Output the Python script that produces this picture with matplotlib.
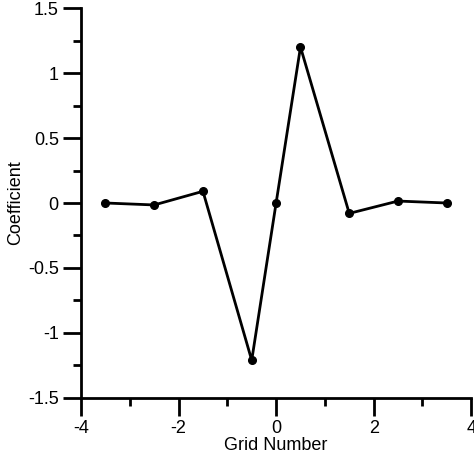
import matplotlib
matplotlib.use("Agg")
import matplotlib.pyplot as plt
from matplotlib.ticker import MultipleLocator, FormatStrFormatter

grid_number = [-3.5, -2.5, -1.5, -0.5, 0.0, 0.5, 1.5, 2.5, 3.5]
coefficient = [0.0, -0.015, 0.09, -1.21, 0.0, 1.2, -0.08, 0.015, 0.0]

plt.rcParams['font.family'] = ['Liberation Sans', 'DejaVu Sans']
plt.rcParams['axes.unicode_minus'] = False

fig = plt.figure(figsize=(4.74, 4.61), dpi=100)
ax = fig.add_axes([0.171, 0.1367, 0.823, 0.8459])

ax.plot(grid_number, coefficient, color='black', linewidth=2,
        marker='o', markersize=5.5, clip_on=False)

ax.set_xlim(-4, 4)
ax.set_ylim(-1.5, 1.5)
ax.xaxis.set_major_locator(MultipleLocator(2))
ax.xaxis.set_minor_locator(MultipleLocator(1))
ax.yaxis.set_major_locator(MultipleLocator(0.5))
ax.yaxis.set_minor_locator(MultipleLocator(0.25))
ax.xaxis.set_major_formatter(FormatStrFormatter('%g'))
ax.yaxis.set_major_formatter(FormatStrFormatter('%g'))

for side in ('top', 'right'):
    ax.spines[side].set_visible(False)
for side in ('left', 'bottom'):
    ax.spines[side].set_linewidth(2)

ax.tick_params(which='major', direction='out', length=13, width=2, labelsize=13, pad=3)
ax.tick_params(which='minor', direction='out', length=6, width=2)

ax.set_xlabel('Grid Number', fontsize=13, labelpad=0)
ax.set_ylabel('Coefficient', fontsize=13, labelpad=3)

fig.savefig('out.png', dpi=100)
